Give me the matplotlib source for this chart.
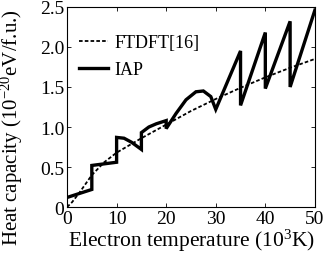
import numpy as np
import matplotlib
matplotlib.use("Agg")
import matplotlib.pyplot as plt

plt.rcParams['font.family'] = ['Liberation Serif', 'DejaVu Serif']
plt.rcParams['mathtext.fontset'] = 'custom'
plt.rcParams['mathtext.rm'] = 'Liberation Serif'
plt.rcParams['mathtext.it'] = 'Liberation Serif:italic'

# FTDFT[16] reference curve
t_ftdft = [0, 1, 2.5, 5, 7.5, 10, 15, 20, 25, 30, 35, 40, 45, 50]
c_ftdft = [0.0, 0.06, 0.18, 0.4, 0.56, 0.68, 0.86, 1.03, 1.2, 1.35, 1.49, 1.62, 1.74, 1.85]

# IAP curve (jumps at shell boundaries)
t_iap = [0, 5, 5, 10, 10, 11.5, 13, 15, 15, 16.5, 18, 20, 20, 22, 24, 26, 27.5, 29, 30,
         35, 35, 40, 40, 45, 45, 50]
c_iap = [0.12, 0.22, 0.52, 0.56, 0.87, 0.86, 0.81, 0.72, 0.93, 1.0, 1.04, 1.08, 0.98,
         1.17, 1.34, 1.44, 1.45, 1.38, 1.22,
         1.95, 1.27, 2.18, 1.48, 2.32, 1.5, 2.46]

fig = plt.figure(figsize=(3.27, 2.55), dpi=100)
ax = fig.add_axes([0.205, 0.184, 0.758, 0.785])

ax.plot(t_ftdft, c_ftdft, color='black', ls=(0, (2, 1.2)), lw=1.3, label='FTDFT[16]')
ax.plot(t_iap, c_iap, color='black', lw=2.4, solid_joinstyle='miter', label='IAP')

ax.set_xlim(0, 50)
ax.set_ylim(0, 2.5)
ax.set_xticks([0, 10, 20, 30, 40, 50])
ax.set_yticks([0, 0.5, 1.0, 1.5, 2.0, 2.5])
ax.set_yticklabels(['0', '0.5', '1.0', '1.5', '2.0', '2.5'])
ax.tick_params(direction='in', top=True, right=True, length=3, width=0.6,
               labelsize=14, pad=2)
for s in ax.spines.values():
    s.set_linewidth(0.8)

ax.set_xlabel('Electron temperature (10$^3$K)', fontsize=15.5, labelpad=0)
ax.set_ylabel('Heat capacity (10$^{-20}$eV/f.u.)', fontsize=15)
ax.yaxis.set_label_coords(-0.17, 0.4)

ax.legend(loc='upper left', frameon=False, fontsize=13, handlelength=1.6,
          bbox_to_anchor=(0.02, 0.9), borderaxespad=0, labelspacing=0.55,
          handletextpad=0.35)

fig.savefig('out.png', dpi=100)
